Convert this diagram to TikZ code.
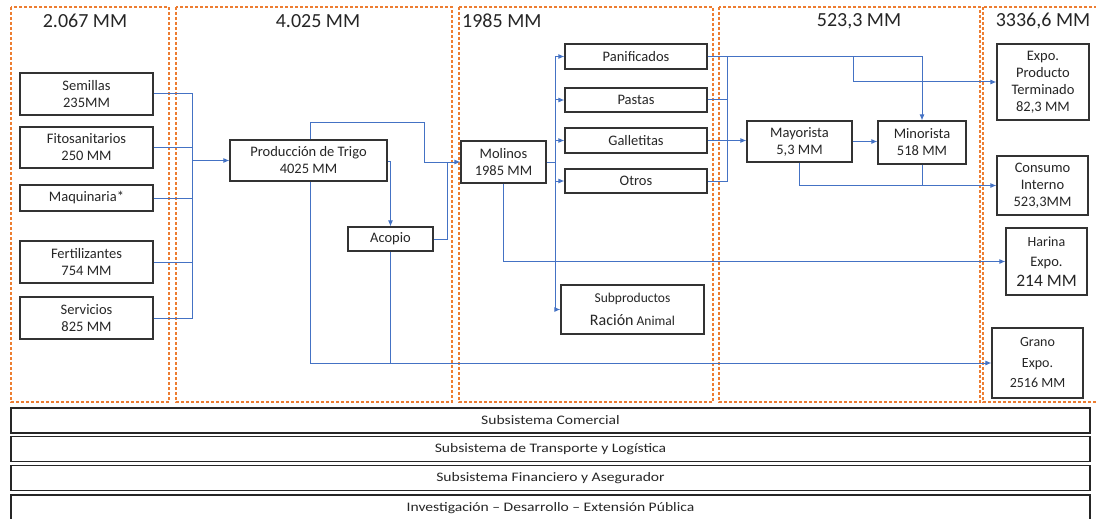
\documentclass[tikz,border=0pt]{standalone}
\usepackage{fontspec}
\setmainfont{Carlito}
\newfontfamily\barfont[FakeStretch=1.2]{Carlito}
\usetikzlibrary{arrows.meta}
\definecolor{obl}{HTML}{4472C4}
\definecolor{oor}{HTML}{ED7D31}
\definecolor{txt}{HTML}{262626}
\begin{document}
\begin{tikzpicture}[x=1pt,y=-1pt,
  col/.style={draw=oor, dash pattern=on 3pt off 2pt, line width=1.1pt},
  box/.style={draw=black!80, line width=1.1pt, fill=white, text=txt, align=center, inner sep=0pt,
              font=\fontsize{14.5}{17}\selectfont},
  conn/.style={draw=obl, line width=1pt},
  arr/.style={conn, -{Latex[length=6pt,width=5pt]}},
  ttl/.style={text=txt, font=\fontsize{20}{24}\selectfont, inner sep=0pt},
  bar/.style={draw=black!85, line width=1.1pt, text=txt, inner sep=0pt, minimum width=1079pt,
              minimum height=25pt, font=\barfont\fontsize{13}{15}\selectfont}
]
\useasboundingbox (0,0) rectangle (1096,519);

% columns
\draw[col] (11,7) rectangle (169,402);
\draw[col] (176,7) rectangle (452,402);
\draw[col] (459,7) rectangle (713,402);
\draw[col] (719,7) rectangle (980,402);
\draw[col] (983,7) rectangle (1110,402);

% titles
\node[ttl] (t1) at (85,21) {2.067 MM};
\node[ttl] (t2) at (318,21) {4.025 MM};
\node[ttl, anchor=west] (t3) at (462,21) {1985 MM};
\node[ttl] (t4) at (859,21) {523,3 MM};
\node[ttl] (t5) at (1043,21) {3336,6 MM};

% input boxes
\node[box, minimum width=133pt, minimum height=42pt] (sem) at (86.5,94) {Semillas\\235MM};
\node[box, minimum width=133pt, minimum height=41pt] (fito) at (86.5,147.5) {Fitosanitarios\\250 MM};
\node[box, minimum width=133pt, minimum height=26pt] (maq) at (86.5,198) {Maquinaria*};
\node[box, minimum width=133pt, minimum height=42pt] (fert) at (86.5,262) {Fertilizantes\\754 MM};
\node[box, minimum width=133pt, minimum height=42pt] (serv) at (86.5,318) {Servicios\\825 MM};

% production
\node[box, minimum width=157pt, minimum height=41pt] (prod) at (308.5,160.5) {Producción de Trigo\\4025 MM};
\node[box, minimum width=85pt, minimum height=24pt] (acop) at (390.5,239) {Acopio};

% industry
\node[box, minimum width=85pt, minimum height=42pt] (mol) at (503.5,162) {Molinos\\1985 MM};
\node[box, minimum width=142pt, minimum height=25pt] (pan) at (636,56.5) {Panificados};
\node[box, minimum width=142pt, minimum height=24pt] (pas) at (636,100) {Pastas};
\node[box, minimum width=142pt, minimum height=25pt] (gal) at (636,140.5) {Galletitas};
\node[box, minimum width=142pt, minimum height=24pt] (otr) at (636,181) {Otros};
\node[box, minimum width=143pt, minimum height=49pt, font=\fontsize{13.5}{23}\selectfont] (sub) at (632.5,309.5)
  {Subproductos\\{\fontsize{16}{23}\selectfont Ración} Animal};

% distribution
\node[box, minimum width=105pt, minimum height=41pt] (may) at (799.5,141.5) {Mayorista\\5,3 MM};
\node[box, minimum width=88pt, minimum height=43pt] (min) at (922,142.5) {Minorista\\518 MM};

% destinations
\node[box, minimum width=92pt, minimum height=76pt] (expt) at (1043,82) {Expo.\\Producto\\Terminado\\82,3 MM};
\node[box, minimum width=91pt, minimum height=59pt] (cons) at (1042.5,185.5) {Consumo\\Interno\\523,3MM};
\node[box, minimum width=81pt, minimum height=67pt, font=\fontsize{14.5}{20}\selectfont] (har) at (1046.5,261.5)
  {{\fontsize{14}{20}\selectfont Harina}\\Expo.\\{\fontsize{17.5}{20}\selectfont 214 MM}};
\node[box, minimum width=91pt, minimum height=70pt, font=\fontsize{14}{20.5}\selectfont] (gra) at (1037.5,363)
  {Grano\\Expo.\\2516 MM};

% bars
\node[bar] (b1) at (550.5,420.5) {Subsistema Comercial};
\node[bar] (b2) at (550.5,449) {Subsistema de Transporte y Logística};
\node[bar] (b3) at (550.5,478) {Subsistema Financiero y Asegurador};
\node[text=txt, inner sep=0pt, font=\barfont\fontsize{13}{15}\selectfont] (b4) at (550.5,508) {Investigación – Desarrollo – Extensión Pública};
\draw[draw=black!85, line width=1.1pt] (11,525) |- (1090,495) -- (1090,525);

% connectors: inputs
\coordinate (bi) at (192,160.5);
\draw[conn] (sem.east) -| (bi);
\draw[conn] (fito.east) -| (bi);
\draw[conn] (maq.east) -| (bi);
\draw[conn] (fert.east) -| (bi);
\draw[conn] (serv.east) -| (bi);
\draw[arr] (bi) -- (prod.west);

% production outputs
\draw[arr] ([xshift=1.5pt]prod.north) |- (424,122) |- (mol.west);
\draw[conn] (acop.east) -| (447,162);
\draw[arr] ([yshift=-0.5pt]prod.east) -| (acop.north);
\draw[arr] ([xshift=1.5pt]prod.south) |- (gra.west);
\draw[conn] (acop.south) -- (acop.south |- gra.west);

% molinos outputs
\coordinate (bm) at (555,162);
\draw[conn] (mol.east) -- (bm);
\draw[arr] (bm) |- (pan.west);
\draw[arr] (bm) |- (pas.west);
\draw[arr] (bm) |- (gal.west);
\draw[arr] (bm) |- (otr.west);
\draw[arr] (bm) |- (sub.west);
\draw[arr] (mol.south) |- (har.west);

% products to distribution
\coordinate (bp) at (727,141);
\draw[arr] (pan.east) -| (min.north);
\draw[arr] (853,56.5) |- (expt.west);
\draw[conn] (727,56.5) -- (bp);
\draw[conn] (pas.east) -| (bp);
\draw[conn] (otr.east) -| (bp);
\draw[arr] (gal.east) -- (gal.east -| may.west);
\draw[arr] (may.east) -- (may.east -| min.west);
\draw[arr] (may.south) |- (cons.west);
\draw[conn] (min.south) -- (min.south |- cons.west);
\end{tikzpicture}
\end{document}
